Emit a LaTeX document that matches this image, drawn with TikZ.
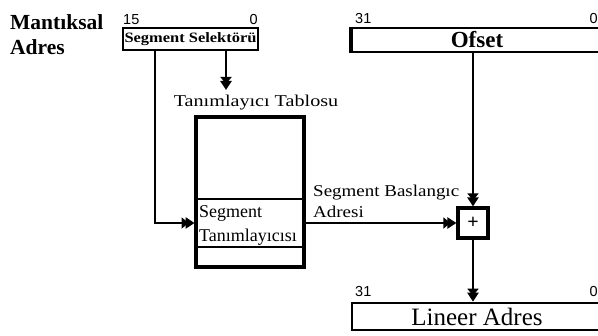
\documentclass[tikz,border=0pt]{standalone}
\usepackage{fontspec}
\setmainfont{Liberation Serif}
\newfontfamily\widefont[FakeStretch=1.15]{Liberation Serif}
\newfontfamily\widerfont[FakeStretch=1.22]{Liberation Serif}
\newfontfamily\numfont{Liberation Sans}
\usetikzlibrary{arrows.meta}
\tikzset{
  fld/.style={draw, line width=2.6pt, inner sep=0pt},
  conn/.style={line width=2.6pt},
  arr/.style={conn, -{Triangle[length=7pt,width=11pt,sep=-3pt]Triangle[length=9pt,width=11pt]}},
  num/.style={inner sep=0pt, font=\numfont\fontsize{14.5}{14.5}\selectfont},
  lbl/.style={inner sep=0pt, anchor=base west},
}
\begin{document}
\begin{tikzpicture}[x=1pt,y=-1pt]
\useasboundingbox (0,0) rectangle (598,336);
\clip (0,0) rectangle (598,336);
% left label
\node[lbl, font=\bfseries\fontsize{21.5}{21.5}\selectfont] (mant) at (10,30) {Mantıksal};
\node[lbl, font=\bfseries\fontsize{21.5}{21.5}\selectfont] (adr) at (10,55) {Adres};
% segment selector
\node[fld, minimum width=135pt, minimum height=22pt, font=\widefont\bfseries\fontsize{14.3}{14.3}\selectfont] (sel) at (190.5,39) {Segment Selektörü};
\node[num, anchor=base west] (s15) at (123,25) {15};
\node[num, anchor=base east] (s0) at (258,25) {0};
% offset
\node[fld, minimum width=250pt, minimum height=24pt, font=\bfseries\fontsize{23}{23}\selectfont] (ofs) at (477,40) {Ofset};
\draw[line width=4pt] (ofs.north west) -- (ofs.south west);
\node[num, anchor=base west] (o31) at (355,24) {31};
\node[num, anchor=base east] (o0) at (598,24) {0};
% descriptor table
\node[lbl, anchor=base, font=\widerfont\fontsize{16.5}{16.5}\selectfont] (ttl) at (256,107) {Tanımlayıcı Tablosu};
\node[draw, line width=3.2pt, minimum width=108pt, minimum height=150pt, inner sep=0pt] (tab) at (250,192) {};
\node[draw, line width=2.8pt, minimum width=108pt, minimum height=48pt, inner sep=0pt] (desc) at (250,223) {};
\node[lbl, font=\fontsize{18}{18}\selectfont] (d1) at (199,218) {Segment};
\node[lbl, font=\fontsize{18}{18}\selectfont] (d2) at (199,242) {Tanımlayıcısı};
% adder
\node[draw, line width=3.2pt, minimum width=30pt, minimum height=30pt, inner sep=0pt, font=\bfseries\fontsize{20}{20}\selectfont] (plus) at (473,223) {+};
\node[lbl, font=\widefont\fontsize{16.5}{16.5}\selectfont] (b1) at (313,197) {Segment Baslangıc};
\node[lbl, font=\widefont\fontsize{16.5}{16.5}\selectfont] (b2) at (313,218) {Adresi};
% linear address
\node[fld, minimum width=250pt, minimum height=27pt, font=\fontsize{25}{25}\selectfont] (lin) at (477,316.5) {Lineer Adres};
\node[num, anchor=base west] (l31) at (355,297) {31};
\node[num, anchor=base east] (l0) at (598,297) {0};
% connectors
\coordinate (a1) at (226,90);
\coordinate (c1) at (155,50);
\draw[arr] (sel.south -| a1) -- (a1);
\draw[arr] (c1) |- (desc.west);
\draw[arr] (desc.east) -- (plus.west);
\draw[arr] (ofs.south -| plus) -- (plus.north);
\draw[arr] (plus.south) -- (lin.north -| plus);
\end{tikzpicture}
\end{document}
